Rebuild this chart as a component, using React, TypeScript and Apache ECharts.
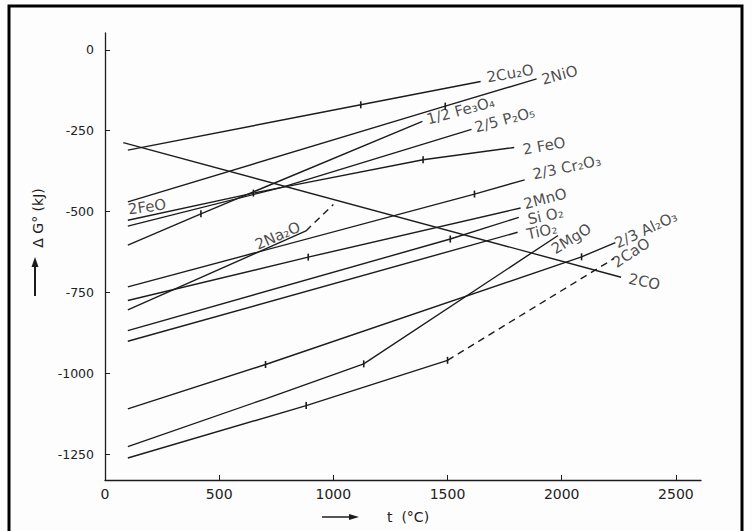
import React, { useEffect, useRef } from "react";
import * as echarts from "echarts";

// Temperature (°C) / ΔG° (kJ) points
const tempTicks = [0, 500, 1000, 1500, 2000, 2500];
const energyTicks = [0, -250, -500, -750, -1000, -1250];

const cu2o = [[100, -310], [1120, -170], [1645, -98]];
const nio = [[100, -470], [1490, -174], [1890, -90]];
const co = [[80, -287], [2260, -703]];
const fe3o4 = [[100, -604], [420, -507], [1390, -221]];
const p2o5 = [[100, -545], [770, -426], [1605, -246]];
const feo = [[100, -527], [650, -443], [770, -426], [1393, -340], [1792, -302]];
const cr2o3 = [[100, -733], [1618, -446], [1838, -402]];
const na2o = [[100, -804], [880, -560]];
const na2oGas = [[880, -560], [1000, -478]];
const mno = [[100, -775], [890, -641], [1820, -489]];
const sio2 = [[100, -868], [1512, -585], [1812, -518]];
const tio2 = [[100, -901], [1807, -564]];
const mgo = [[100, -1227], [703, -1079], [1133, -971], [1984, -574]];
const al2o3 = [[100, -1110], [703, -973], [2087, -640], [2235, -596]];
const cao = [[100, -1262], [881, -1100], [1500, -960]];
const caoGas = [[1500, -960], [2230, -645]];

// temperatures where a transition tick is drawn on each line
const cu2oMarks = [1120];
const nioMarks = [1490];
const fe3o4Marks = [420];
const feoMarks = [650, 1393];
const cr2o3Marks = [1618];
const mnoMarks = [890];
const sio2Marks = [1512];
const mgoMarks = [1133];
const al2o3Marks = [703, 2087];
const caoMarks = [881, 1500];
const none: number[] = [];

const oxideLines = [
  { name: "2Cu₂O", points: cu2o, marks: cu2oMarks, dashed: false },
  { name: "2NiO", points: nio, marks: nioMarks, dashed: false },
  { name: "2CO", points: co, marks: none, dashed: false },
  { name: "1/2 Fe₃O₄", points: fe3o4, marks: fe3o4Marks, dashed: false },
  { name: "2/5 P₂O₅", points: p2o5, marks: none, dashed: false },
  { name: "2FeO", points: feo, marks: feoMarks, dashed: false },
  { name: "2/3 Cr₂O₃", points: cr2o3, marks: cr2o3Marks, dashed: false },
  { name: "2Na₂O", points: na2o, marks: none, dashed: false },
  { name: "2Na₂O (g)", points: na2oGas, marks: none, dashed: true },
  { name: "2MnO", points: mno, marks: mnoMarks, dashed: false },
  { name: "SiO₂", points: sio2, marks: sio2Marks, dashed: false },
  { name: "TiO₂", points: tio2, marks: none, dashed: false },
  { name: "2MgO", points: mgo, marks: mgoMarks, dashed: false },
  { name: "2/3 Al₂O₃", points: al2o3, marks: al2o3Marks, dashed: false },
  { name: "2CaO", points: cao, marks: caoMarks, dashed: false },
  { name: "2CaO (g)", points: caoGas, marks: none, dashed: true },
];

// annotation texts, anchored at their start: [temperature, ΔG°, text, rotation]
const lineLabels: [number, number, string, number][] = [
  [1672, -86, "2Cu₂O", 10],
  [1913, -93, "2NiO", 15],
  [1410, -216, "1/2 Fe₃O₄", 15],
  [1620, -241, "2/5 P₂O₅", 15],
  [1830, -309, "2 FeO", 10],
  [1874, -386, "2/3 Cr₂O₃", 12],
  [101, -494, "2FeO", 8],
  [661, -605, "2Na₂O", 24],
  [1835, -478, "2MnO", 15],
  [1852, -525, "Si O₂", 12],
  [1848, -571, "TiO₂", 12],
  [1961, -620, "2MgO", 32],
  [2236, -600, "2/3 Al₂O₃", 25],
  [2229, -662, "2CaO", 33],
  [2294, -707, "2CO", -12],
];

const INK = "#1c1c1c";
const FONT = "DejaVu Sans";

export default function App() {
  const ref = useRef<HTMLDivElement>(null);

  useEffect(() => {
    if (!ref.current) return;
    const chart = echarts.init(ref.current, undefined, { renderer: "svg" });

    const lineSeries = oxideLines.map((l) => ({
      type: "line",
      name: l.name,
      silent: true,
      symbol: "rect",
      symbolSize: [1.6, 7],
      showSymbol: true,
      data: l.points.map((p) =>
        l.marks.includes(p[0]) ? { value: p } : { value: p, symbol: "none" }
      ),
      lineStyle: { color: INK, width: 1.4, type: l.dashed ? [7, 5] : "solid" },
      itemStyle: { color: INK },
      z: 2,
    }));

    const labelSeries = {
      type: "scatter",
      silent: true,
      symbolSize: 1,
      itemStyle: { color: "rgba(0,0,0,0)" },
      data: lineLabels.map(([t, g, text, rot]) => ({
        name: text,
        value: [t, g],
        label: { rotate: rot },
      })),
      label: {
        show: true,
        position: "inside",
        align: "left",
        verticalAlign: "middle",
        formatter: "{b}",
        fontFamily: FONT,
        fontSize: 15,
        color: INK,
      },
      labelLayout: { hideOverlap: false },
      z: 3,
    };

    chart.setOption({
      animation: false,
      backgroundColor: "#fdfdfd",
      grid: { left: 105, right: 51, top: 33, bottom: 51 },
      xAxis: {
        type: "value",
        min: 0,
        max: 2610,
        axisLine: { onZero: false, lineStyle: { color: INK, width: 1.3 } },
        axisTick: { inside: true, length: 5, lineStyle: { color: INK }, customValues: tempTicks },
        axisLabel: {
          customValues: tempTicks,
          formatter: (v: number) => String(v),
          color: "#222",
          fontFamily: FONT,
          fontSize: 14,
          margin: 7,
        },
        splitLine: { show: false },
      },
      yAxis: {
        type: "value",
        min: -1330,
        max: 52,
        axisLine: { show: true, onZero: false, lineStyle: { color: INK, width: 1.3 } },
        axisTick: { show: true, inside: true, length: 5, lineStyle: { color: INK }, customValues: energyTicks },
        axisLabel: {
          customValues: energyTicks,
          formatter: (v: number) => String(v),
          color: "#222",
          fontFamily: FONT,
          fontSize: 12.5,
          margin: 11,
        },
        splitLine: { show: false },
      },
      graphic: [
        {
          type: "rect",
          shape: { x: 9, y: 6, width: 733, height: 540 },
          style: { fill: "none", stroke: "#000", lineWidth: 3 },
          silent: true,
        },
        {
          type: "text",
          x: 38,
          y: 218,
          rotation: Math.PI / 2,
          style: {
            text: "Δ G° (kJ)",
            fontFamily: FONT,
            fontSize: 14,
            fill: INK,
            textAlign: "center",
            textVerticalAlign: "middle",
          },
        },
        {
          type: "line",
          shape: { x1: 35, y1: 296, x2: 35, y2: 264 },
          style: { stroke: INK, lineWidth: 2 },
        },
        {
          type: "polygon",
          shape: { points: [[35, 257], [31.5, 267], [38.5, 267]] },
          style: { fill: INK },
        },
        {
          type: "line",
          shape: { x1: 322, y1: 517, x2: 352, y2: 517 },
          style: { stroke: INK, lineWidth: 1.5 },
        },
        {
          type: "polygon",
          shape: { points: [[359, 517], [349, 514], [349, 520]] },
          style: { fill: INK },
        },
        {
          type: "text",
          x: 387,
          y: 517,
          style: {
            text: "t  (°C)",
            fontFamily: FONT,
            fontSize: 14,
            fill: INK,
            textAlign: "left",
            textVerticalAlign: "middle",
          },
        },
      ],
      series: [...lineSeries, labelSeries],
    });

    return () => chart.dispose();
  }, []);

  return (
    <div
      ref={ref}
      style={{ position: "fixed", left: 0, top: 0, width: 752, height: 531 }}
    />
  );
}
